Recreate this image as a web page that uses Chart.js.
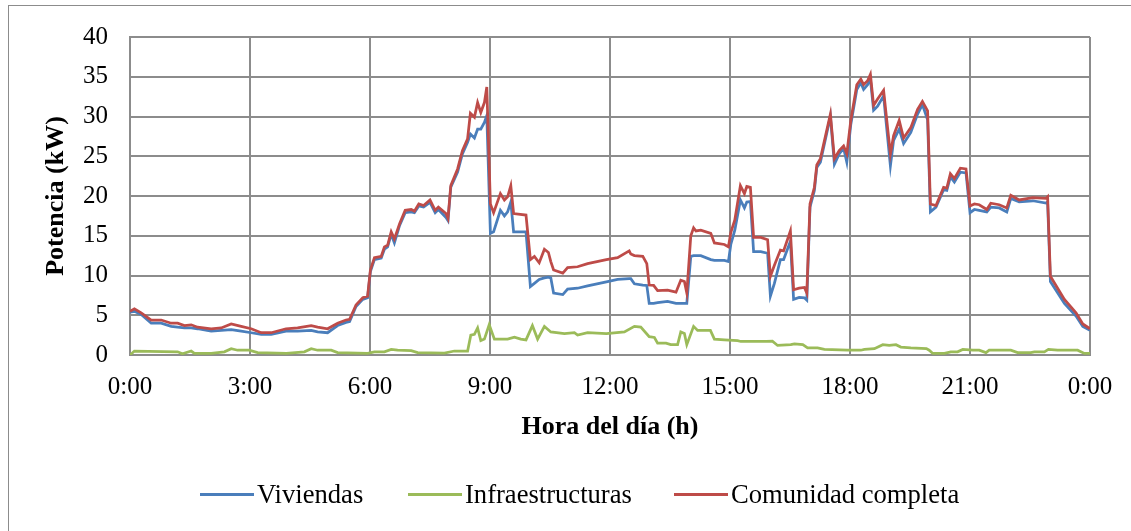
<!DOCTYPE html>
<html>
<head>
<meta charset="utf-8">
<script src="https://cdn.jsdelivr.net/npm/chart.js@4.4.1/dist/chart.umd.min.js"></script>
<style>
  body { margin: 0; background: #fff; overflow: hidden; }
  .wrap { position: relative; width: 1131px; height: 531px; }
  .frame { position: absolute; left: 8px; top: 5px; width: 1140px; height: 540px; border: 1px solid #8c8c8c; }
  .legend-item { position: absolute; top: 478px; height: 32px; display: flex; align-items: center;
    font-family: "Liberation Serif", "Times New Roman", serif; font-size: 26.6px; color: #000; white-space: nowrap; }
  .legend-item span.swatch { display: inline-block; width: 54px; height: 3px; margin-right: 3px; }
</style>
</head>
<body>
<div class="wrap">
  <div class="frame"></div>
  <canvas id="myChart"></canvas>
  <div class="legend-item" style="left:200px"><span class="swatch" style="background:#4a7ebb"></span>Viviendas</div>
  <div class="legend-item" style="left:408px"><span class="swatch" style="background:#9bbb59"></span>Infraestructuras</div>
  <div class="legend-item" style="left:674px"><span class="swatch" style="background:#be4b48"></span>Comunidad completa</div>
</div>
<script>
// time of day in hours, shared by Viviendas and Comunidad completa
const hours = [0, 0.11, 0.28, 0.53, 0.78, 1.03, 1.19, 1.36, 1.53, 1.69, 2.03, 2.28, 2.53, 2.78, 3.03, 3.28, 3.53, 3.9,
  4.19, 4.53, 4.69, 4.94, 5.19, 5.4, 5.49, 5.65, 5.82, 5.94, 6.01, 6.11, 6.28, 6.36, 6.44, 6.53, 6.61, 6.74, 6.88,
  7.03, 7.11, 7.22, 7.34, 7.5, 7.63, 7.71, 7.9, 7.95, 8.02, 8.19, 8.31, 8.44, 8.51, 8.61, 8.69, 8.77, 8.86, 8.92,
  9.01, 9.09, 9.26, 9.36, 9.44, 9.52, 9.59, 9.9, 10.01, 10.11, 10.23, 10.36, 10.46, 10.52, 10.59, 10.82, 10.94,
  11.19, 11.44, 11.91, 12.19, 12.48, 12.52, 12.61, 12.82, 12.92, 12.98, 13.09, 13.19, 13.44, 13.65, 13.77, 13.86,
  13.92, 14.02, 14.09, 14.15, 14.27, 14.52, 14.61, 14.86, 14.96, 15.02, 15.12, 15.26, 15.36, 15.42, 15.51, 15.59,
  15.77, 15.94, 16.01, 16.11, 16.26, 16.34, 16.51, 16.59, 16.73, 16.86, 16.92, 17.0, 17.11, 17.17, 17.26, 17.51,
  17.61, 17.73, 17.84, 17.92, 18.02, 18.17, 18.27, 18.34, 18.44, 18.51, 18.59, 18.69, 18.84, 18.92, 19.01, 19.09,
  19.23, 19.34, 19.52, 19.69, 19.81, 19.94, 20.01, 20.15, 20.34, 20.42, 20.51, 20.61, 20.76, 20.9, 21.0, 21.11,
  21.23, 21.42, 21.52, 21.73, 21.92, 22.02, 22.23, 22.57, 22.9, 22.94, 23.01, 23.36, 23.65, 23.82, 24];

const viviendas = [5.4, 5.5, 5.1, 4.0, 4.0, 3.6, 3.5, 3.4, 3.4, 3.3, 3.0, 3.1, 3.2, 3.0, 2.8, 2.6, 2.6, 3.0,
  3.0, 3.1, 2.9, 2.8, 3.7, 4.1, 4.2, 6.1, 7.0, 7.2, 10.5, 12.0, 12.2, 13.3, 13.6, 15.2, 14.1, 16.3, 17.9,
  18.0, 17.9, 18.75, 18.6, 19.2, 17.9, 18.3, 17.3, 16.9, 21.1, 23.0, 25.3, 26.75, 27.8, 27.3, 28.4, 28.4, 29.25, 30.1,
  15.3, 15.5, 18.2, 17.5, 18.0, 19.25, 15.5, 15.5, 8.6, 9.0, 9.5, 9.7, 9.8, 9.7, 7.8, 7.6, 8.3,
  8.4, 8.7, 9.2, 9.5, 9.6, 9.6, 8.95, 8.8, 8.75, 6.5, 6.5, 6.6, 6.75, 6.5, 6.5, 6.5,
  6.5, 12.4, 12.5, 12.5, 12.5, 12.0, 11.9, 11.9, 11.75, 13.9, 15.7, 19.5, 18.5, 19.25, 19.3, 13.0,
  13.0, 12.8, 7.4, 9.0, 12.0, 12.0, 14.3, 7.0, 7.25, 7.2, 6.9, 18.6, 20.7, 23.6, 24.25, 30.0,
  24.0, 25.3, 26.0, 24.25, 29.0, 33.4, 34.25, 33.4, 34.0, 34.7, 30.8, 31.3, 32.6, 28.4, 23.8, 27.0,
  28.4, 26.6, 28.0, 30.3, 31.5, 29.6, 18.0, 18.6, 20.8, 20.7, 22.4, 21.75, 23.0, 22.9, 17.9, 18.3,
  18.2, 18.0, 18.6, 18.5, 18.0, 19.7, 19.25, 19.4, 19.1, 19.25, 9.25, 6.5, 4.9, 3.6, 3.1];

const comunidad = [5.5, 5.8, 5.3, 4.4, 4.4, 4.0, 4.0, 3.7, 3.8, 3.5, 3.3, 3.4, 3.9, 3.6, 3.3, 2.8, 2.8, 3.3,
  3.4, 3.7, 3.5, 3.3, 4.0, 4.4, 4.5, 6.3, 7.2, 7.4, 10.7, 12.25, 12.4, 13.6, 13.8, 15.5, 14.6, 16.5, 18.2,
  18.3, 18.1, 19.0, 18.8, 19.5, 18.2, 18.6, 17.8, 17.2, 21.3, 23.4, 25.7, 27.2, 30.4, 29.9, 31.75, 30.5, 31.75, 33.7,
  19.0, 17.9, 20.3, 19.5, 19.9, 21.3, 17.8, 17.6, 12.0, 12.4, 11.6, 13.3, 12.9, 11.75, 10.7, 10.3, 11.0,
  11.1, 11.5, 12.0, 12.25, 13.1, 12.7, 12.5, 12.4, 11.5, 8.8, 8.75, 8.1, 8.15, 7.9, 9.4, 9.25,
  7.8, 15.0, 16.0, 15.6, 15.7, 15.3, 14.1, 13.9, 13.6, 15.4, 17.0, 21.3, 20.3, 21.2, 21.1, 14.8,
  14.8, 14.5, 9.9, 11.3, 13.2, 13.1, 15.6, 8.2, 8.4, 8.5, 7.8, 19.0, 21.1, 23.9, 24.7, 30.3,
  24.7, 25.7, 26.3, 25.3, 29.5, 34.0, 34.7, 34.0, 34.5, 35.3, 31.4, 32.2, 33.3, 29.5, 25.3, 27.6,
  29.5, 27.3, 28.6, 30.9, 31.9, 30.7, 19.0, 18.8, 21.1, 21.0, 22.8, 22.2, 23.5, 23.4, 18.75, 19.0,
  18.9, 18.3, 19.1, 18.9, 18.5, 20.1, 19.5, 19.8, 19.7, 19.9, 9.9, 7.0, 5.3, 3.9, 3.3];

// Infraestructuras has its own sample times
const infraHours = [0, 0.11, 1.19, 1.31, 1.53, 1.61, 2.03, 2.36, 2.53, 2.69, 2.98, 3.19, 3.91, 4.36, 4.53, 4.69,
  5.03, 5.19, 5.94, 6.11, 6.36, 6.53, 6.69, 7.03, 7.19, 7.86, 8.11, 8.44, 8.52, 8.61, 8.69, 8.77, 8.86, 8.98,
  9.11, 9.44, 9.61, 9.77, 9.9, 10.06, 10.19, 10.36, 10.52, 10.86, 11.11, 11.19, 11.44, 11.91, 12.36, 12.61,
  12.77, 12.98, 13.11, 13.19, 13.4, 13.52, 13.69, 13.77, 13.86, 13.92, 14.09, 14.19, 14.51, 14.61, 14.86,
  15.19, 15.27, 15.91, 16.06, 16.19, 16.52, 16.61, 16.82, 16.94, 17.19, 17.36, 17.94, 18.27, 18.36, 18.61,
  18.82, 18.98, 19.15, 19.27, 19.52, 19.91, 19.98, 20.07, 20.36, 20.52, 20.69, 20.82, 21.07, 21.23, 21.4,
  21.48, 22.02, 22.19, 22.52, 22.61, 22.86, 22.96, 23.19, 23.69, 23.86, 24];

const infraestructuras = [0, 0.5, 0.4, 0.15, 0.5, 0.2, 0.2, 0.4, 0.8, 0.6, 0.6, 0.3, 0.2, 0.4, 0.8, 0.6,
  0.6, 0.3, 0.2, 0.4, 0.4, 0.7, 0.6, 0.55, 0.3, 0.25, 0.5, 0.5, 2.5, 2.6, 3.4, 1.8, 2.0, 3.8,
  2.0, 2.0, 2.25, 2.0, 1.9, 3.7, 2.0, 3.6, 2.9, 2.7, 2.8, 2.5, 2.8, 2.7, 2.9, 3.6,
  3.5, 2.3, 2.2, 1.5, 1.5, 1.3, 1.3, 2.9, 2.7, 1.3, 3.6, 3.1, 3.1, 2.0, 1.9,
  1.8, 1.7, 1.7, 1.75, 1.2, 1.3, 1.4, 1.3, 0.9, 0.9, 0.7, 0.6, 0.6, 0.7, 0.8,
  1.3, 1.2, 1.3, 1.0, 0.9, 0.8, 0.6, 0.2, 0.2, 0.4, 0.4, 0.7, 0.6, 0.6, 0.3,
  0.6, 0.6, 0.3, 0.3, 0.4, 0.4, 0.7, 0.6, 0.6, 0.2, 0.2];

const hourTicks = [0, 3, 6, 9, 12, 15, 18, 21, 24];
const kwMax = 40;

const toPoints = (xs, ys) => xs.map((x, i) => ({ x: x, y: ys[i] }));

const serif = '"Liberation Serif", "Times New Roman", serif';
const gridGray = '#8c8c8c';

const config = {
  type: 'line',
  data: {
    datasets: [
      { label: 'Viviendas', data: toPoints(hours, viviendas), borderColor: '#4a7ebb', order: 1 },
      { label: 'Infraestructuras', data: toPoints(infraHours, infraestructuras), borderColor: '#9bbb59', order: 2 },
      { label: 'Comunidad completa', data: toPoints(hours, comunidad), borderColor: '#be4b48', order: 0 }
    ]
  },
  options: {
    responsive: true,
    maintainAspectRatio: false,
    animation: false,
    layout: { padding: { top: 35, right: 41, bottom: 0, left: 0 } },
    elements: {
      line: { borderWidth: 2.75, tension: 0, fill: false },
      point: { radius: 0, hoverRadius: 0 }
    },
    plugins: { legend: { display: false }, tooltip: { enabled: false } },
    scales: {
      x: {
        type: 'linear',
        min: hourTicks[0],
        max: hourTicks[hourTicks.length - 1],
        afterBuildTicks: (scale) => { scale.ticks = hourTicks.map(v => ({ value: v })); },
        afterFit: (scale) => { scale.height = 176; },
        ticks: {
          padding: 17,
          color: '#000',
          font: { family: serif, size: 25 },
          callback: (v) => (v % 24) + ':00'
        },
        grid: { color: gridGray, lineWidth: 2, drawTicks: false },
        border: { color: gridGray, width: 2 },
        title: {
          display: true,
          text: 'Hora del día (h)',
          color: '#000',
          font: { family: serif, size: 26, weight: 'bold' },
          padding: { top: 0, bottom: 88 }
        }
      },
      y: {
        min: 0,
        max: kwMax,
        afterFit: (scale) => { scale.width = 130; },
        ticks: { stepSize: 5, padding: 22, color: '#000', font: { family: serif, size: 25 } },
        grid: { color: gridGray, lineWidth: 2, drawTicks: false },
        border: { color: gridGray, width: 2 },
        title: {
          display: true,
          text: 'Potencia (kW)',
          color: '#000',
          font: { family: serif, size: 26, weight: 'bold' },
          padding: { top: 41, bottom: 0 }
        }
      }
    }
  }
};

const myChart = new Chart(document.getElementById('myChart'), config);
</script>
</body>
</html>
